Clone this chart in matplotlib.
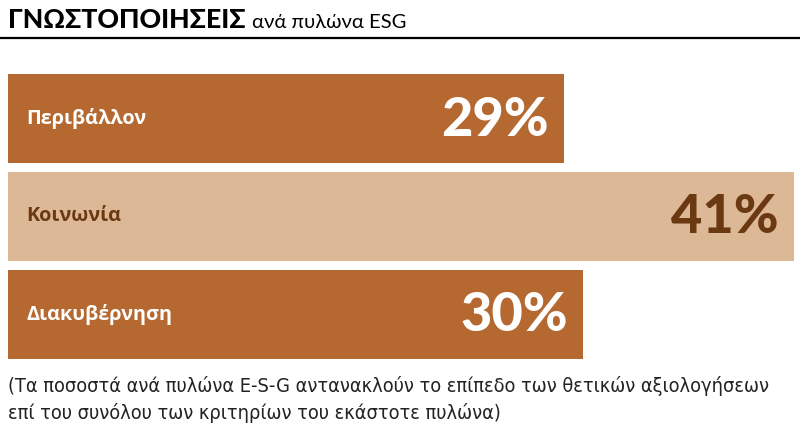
import matplotlib
matplotlib.use('Agg')
import matplotlib.pyplot as plt
from matplotlib.lines import Line2D

# data
categories = ['Περιβάλλον', 'Κοινωνία', 'Διακυβέρνηση']
values = [29, 41, 30]
labels = ['29%', '41%', '30%']

dark = '#B5682F'
light = '#DDB897'
brown_text = '#6A3912'
bar_colors = [dark, light, dark]
label_colors = ['white', brown_text, 'white']

fig = plt.figure(figsize=(8, 4.47), dpi=100)
ax = fig.add_axes([8/800, (447-359)/447, 1 - 8/800, 285/447])

ypos = list(range(len(categories)))
ax.barh(ypos, values, height=0.915, color=bar_colors, edgecolor='none')
ax.set_xlim(0, 792/19.17)
ax.set_ylim(2.4575, -0.4575)
ax.axis('off')

for i, (cat, val, lab) in enumerate(zip(categories, values, labels)):
    ax.annotate(cat, xy=(0, i), xytext=(13.5, 0), textcoords='offset points',
                ha='left', va='center', fontsize=14.3, fontweight='bold',
                color=label_colors[i], family=['Open Sans', 'DejaVu Sans'])
    ax.annotate(lab, xy=(val, i), xytext=(-11, -1), textcoords='offset points',
                ha='right', va='center', fontsize=39, fontweight='black',
                color=label_colors[i], family=['Lato', 'DejaVu Sans'])

# title
fig.text(8/800, (447-28)/447, 'ΓΝΩΣΤΟΠΟΙΗΣΕΙΣ', ha='left', va='baseline',
         fontsize=19.2, fontweight='black', color='black', family=['Lato', 'DejaVu Sans'])
fig.text(252/800, (447-28)/447, 'ανά πυλώνα ESG', ha='left', va='baseline',
         fontsize=14.6, color='black', family=['Lato', 'DejaVu Sans'])
fig.add_artist(Line2D([0, 1], [(447-38)/447]*2, color='black', lw=1.6))

# footnote
note = ('(Τα ποσοστά ανά πυλώνα E-S-G αντανακλούν το επίπεδο των θετικών αξιολογήσεων\n'
        'επί του συνόλου των κριτηρίων του εκάστοτε πυλώνα)')
fig.text(8/800, (447-376)/447, note, ha='left', va='top', fontsize=14.3,
         linespacing=1.45, color='#222222', fontstretch='condensed',
         family=['DejaVu Sans'])

fig.savefig('out.png', dpi=100)
